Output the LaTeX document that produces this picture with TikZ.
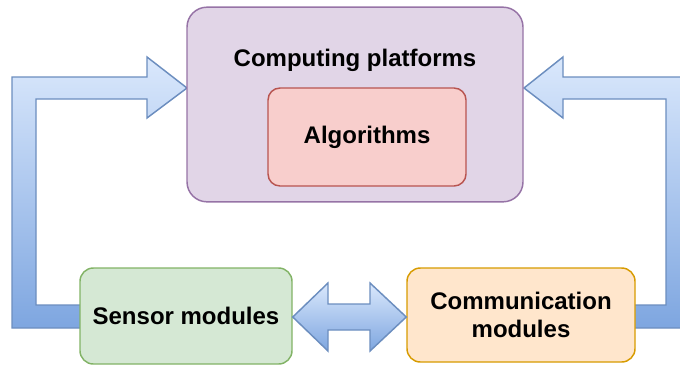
\documentclass[tikz,border=0pt]{standalone}
\usepackage{fontspec}
\setmainfont{Liberation Sans}
\usetikzlibrary{positioning,calc}

\definecolor{platfill}{HTML}{E1D5E7}
\definecolor{platline}{HTML}{9673A6}
\definecolor{algfill}{HTML}{F8CECC}
\definecolor{algline}{HTML}{B85450}
\definecolor{sensfill}{HTML}{D5E8D4}
\definecolor{sensline}{HTML}{82B366}
\definecolor{commfill}{HTML}{FFE6CC}
\definecolor{commline}{HTML}{D79B00}
\definecolor{arrtop}{HTML}{DAE8FC}
\definecolor{arrbot}{HTML}{7EA6E0}
\definecolor{arrline}{HTML}{6C8EBF}

\begin{document}
\begin{tikzpicture}[x=0.75pt,y=-0.75pt,
	box/.style={draw, rectangle, line width=1.1pt, align=center, font=\bfseries\fontsize{18}{21}\selectfont},
	blockarrow/.style={line width=1.1pt, draw=arrline, top color=arrtop, bottom color=arrbot, line join=miter}]
			\useasboundingbox (0,0) rectangle (680,368);
			
			% big arrows behind the boxes
			\path[blockarrow] (90,305) -- (36,305) -- (36,99) -- (147,99) -- (147,118) -- (187,88) -- (147,57) -- (147,77) -- (12,77) -- (12,328) -- (90,328) -- cycle;
			\path[blockarrow] (625,305) -- (666,305) -- (666,99) -- (563,99) -- (563,118) -- (524,88) -- (563,57) -- (563,77) -- (689,77) -- (689,328) -- (625,328) -- cycle;
			
			\node[box, fill=platfill, draw=platline, rounded corners=15pt, minimum width=252pt, minimum height=146pt] (plat) at (355,104.5) {};
			\node[font=\bfseries\fontsize{18}{21}\selectfont] (platlbl) at (355,60) {Computing platforms};
			\node[box, fill=algfill, draw=algline, rounded corners=9pt, minimum width=148.5pt, minimum height=73.5pt] (alg) at (367,137) {Algorithms};
			
			\node[box, fill=sensfill, draw=sensline, rounded corners=10pt, minimum width=159pt, minimum height=72pt] (sens) at (186,316) {Sensor modules};
			\node[box, fill=commfill, draw=commline, rounded corners=10pt, minimum width=171pt, minimum height=70.5pt] (comm) at (521,315) {Communication\\modules};
			
			% two way arrow
			\path[blockarrow] (sens.east |- 0,317) -- (328,283) -- (328,304) -- (370,304) -- (370,283) -- (comm.west |- 0,317) -- (370,351) -- (370,330) -- (328,330) -- (328,351) -- cycle;
			
			\end{tikzpicture}
\end{document}
